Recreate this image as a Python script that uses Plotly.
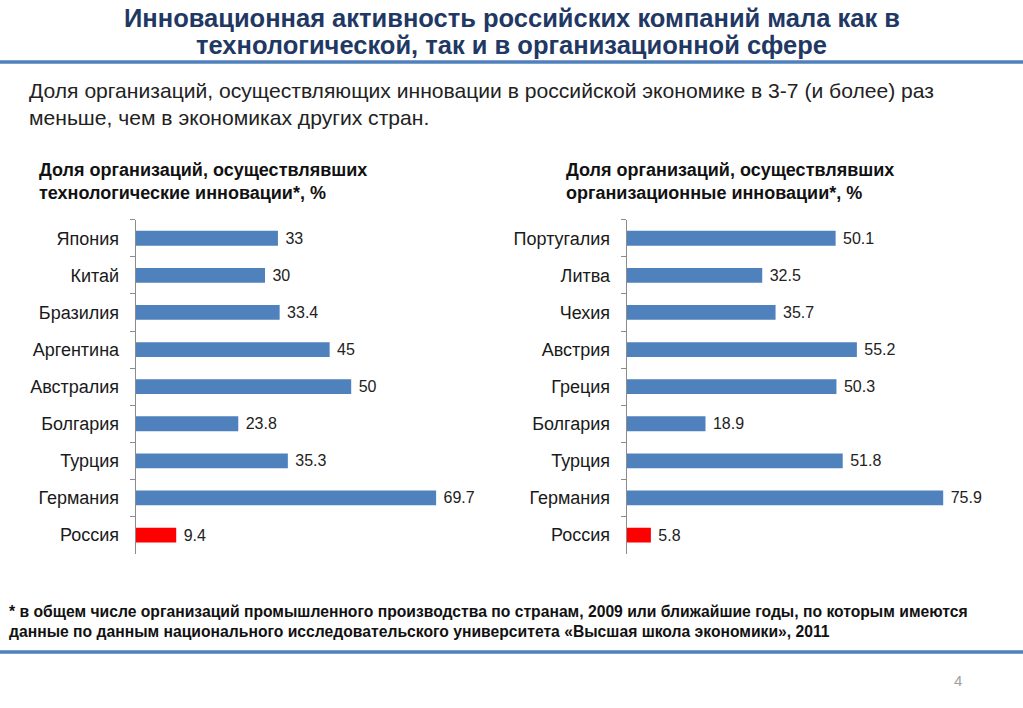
import plotly.graph_objects as go

W, H = 1023, 708

tech_countries = ["Япония", "Китай", "Бразилия", "Аргентина", "Австралия", "Болгария", "Турция", "Германия", "Россия"]
tech_values = [33, 30, 33.4, 45, 50, 23.8, 35.3, 69.7, 9.4]

org_countries = ["Португалия", "Литва", "Чехия", "Австрия", "Греция", "Болгария", "Турция", "Германия", "Россия"]
org_values = [50.1, 32.5, 35.7, 55.2, 50.3, 18.9, 51.8, 75.9, 5.8]

title_lines = ["Инновационная активность российских компаний мала как в",
               "технологической, так и в организационной сфере"]
subtitle_lines = ["Доля организаций, осуществляющих инновации в российской экономике в 3-7 (и более) раз",
                  "меньше, чем в экономиках других стран."]
left_header = "Доля организаций, осуществлявших<br>технологические инновации*, %"
right_header = "Доля организаций, осуществлявших<br>организационные инновации*, %"
footnote = ("* в общем числе организаций промышленного производства по странам, 2009 или ближайшие годы, по которым имеются<br>"
            "данные по данным национального исследовательского университета «Высшая школа экономики», 2011")
page_number = "4"

BLUE = "#4F81BD"
RED = "#FF0000"
SANS = "Liberation Sans, Arial, sans-serif"


def px_x(p):
    return p / W


def px_y(p):
    return 1 - p / H


def colors(countries):
    return [RED if c == "Россия" else BLUE for c in countries]


fig = go.Figure()
for vals, cats, xa, ya in [(tech_values, tech_countries, "x", "y"), (org_values, org_countries, "x2", "y2")]:
    fig.add_trace(go.Bar(
        x=vals, y=cats, orientation="h",
        marker=dict(color=colors(cats), line=dict(width=0)),
        width=0.4, texttemplate="\u00a0%{x}",
        textposition="outside", constraintext="none",
        textfont=dict(family=SANS, size=16, color="#222222"),
        cliponaxis=False, xaxis=xa, yaxis=ya, showlegend=False,
    ))

ydom = [px_y(553.6), px_y(219.7)]
common_x = dict(range=[0, 80], visible=False, fixedrange=True)
common_y = dict(
    type="category", autorange="reversed", showline=True, linecolor="#8C8C8C", linewidth=1,
    ticks="outside", tickson="boundaries", ticklen=5, tickcolor="#8C8C8C",
    tickfont=dict(family=SANS, size=18, color="#1A1A1A"), showgrid=False, zeroline=False,
    ticklabelstandoff=12, fixedrange=True,
)

fig.update_layout(
    width=W, height=H,
    margin=dict(l=0, r=0, t=0, b=0),
    paper_bgcolor="white", plot_bgcolor="white",
    xaxis=dict(domain=[px_x(135.7), px_x(135.7 + 80 * 4.31)], anchor="y", **common_x),
    yaxis=dict(domain=ydom, anchor="x", **common_y),
    xaxis2=dict(domain=[px_x(626.7), px_x(626.7 + 80 * 4.17)], anchor="y2", **common_x),
    yaxis2=dict(domain=ydom, anchor="x2", **common_y),
)

annotations = [
    dict(text="<b>" + title_lines[0] + "</b>", x=px_x(511.5), y=px_y(18), xanchor="center", yanchor="middle",
         font=dict(family=SANS, size=25.5, color="#1F3864")),
    dict(text="<b>" + title_lines[1] + "</b>", x=px_x(511.5), y=px_y(45), xanchor="center", yanchor="middle",
         font=dict(family=SANS, size=25.5, color="#1F3864")),
    dict(text=subtitle_lines[0], x=px_x(27), y=px_y(90), xanchor="left", yanchor="middle",
         font=dict(family=SANS, size=21.1, color="#222222")),
    dict(text=subtitle_lines[1], x=px_x(27), y=px_y(117), xanchor="left", yanchor="middle",
         font=dict(family=SANS, size=21.1, color="#222222")),
    dict(text="<b>" + left_header + "</b>", x=px_x(37), y=px_y(181), xanchor="left", yanchor="middle", align="left",
         font=dict(family=SANS, size=18, color="#111111")),
    dict(text="<b>" + right_header + "</b>", x=px_x(564), y=px_y(181), xanchor="left", yanchor="middle", align="left",
         font=dict(family=SANS, size=18, color="#111111")),
    dict(text="<b>" + footnote + "</b>", x=px_x(7), y=px_y(621.5), xanchor="left", yanchor="middle", align="left",
         font=dict(family=SANS, size=15.7, color="#111111")),
    dict(text=page_number, x=px_x(958), y=px_y(680), xanchor="center", yanchor="middle",
         font=dict(family=SANS, size=15, color="#A0A0A0")),
]
for a in annotations:
    a.update(xref="paper", yref="paper", showarrow=False)
fig.update_layout(annotations=annotations)

fig.update_layout(shapes=[
    dict(type="line", xref="paper", yref="paper", x0=0, x1=1, y0=px_y(62), y1=px_y(62),
         line=dict(color=BLUE, width=3.5)),
    dict(type="line", xref="paper", yref="paper", x0=0, x1=1, y0=px_y(652), y1=px_y(652),
         line=dict(color=BLUE, width=3.5)),
])

fig.write_html(
    "out.html",
    config={"displayModeBar": False},
    post_script="document.body.style.margin='0';document.body.style.overflow='hidden';",
)
